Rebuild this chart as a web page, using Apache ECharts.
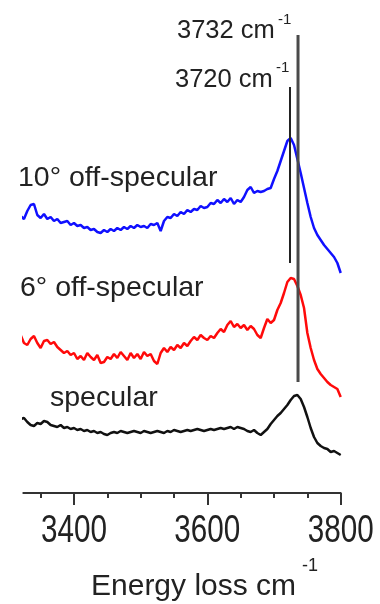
<!DOCTYPE html>
<html>
<head>
<meta charset="utf-8">
<script src="https://cdn.jsdelivr.net/npm/echarts@6/dist/echarts.min.js"></script>
<style>
html,body{margin:0;padding:0;background:#fff;}
#chart{width:380px;height:604px;}
</style>
</head>
<body>
<div id="chart"></div>
<script>
// Energy loss (cm-1), sampled every 5 cm-1
const energy = [];
for (let e = 3310; e <= 3800; e += 5) energy.push(e);

// Offset intensities (arbitrary units)
const offSpec10 = [284,283,277,274,282,288,289,278,275,279,274,276,272,274,270,271,272,268,270,267,
  268,265,266,263,264,261,260,263,261,264,262,265,263,266,264,267,265,268,266,267,
  265,269,268,270,262,272,276,275,279,277,281,279,283,281,284,283,287,285,286,290,
  289,293,290,294,291,295,289,293,291,296,303,306,300,302,301,302,304,305,314,322,
  332,342,352,355,348,334,320,305,290,276,265,258,253,248,244,240,236,230,220];
const offSpec6 = [166,162,158,150,148,154,157,150,145,152,153,149,151,146,143,140,142,138,140,134,
  137,133,140,136,133,138,130,131,136,134,139,135,141,137,133,140,135,139,134,141,
  137,139,132,129,140,145,141,146,143,148,145,150,147,152,156,153,158,155,153,157,
  155,160,164,161,168,172,166,169,165,168,163,167,164,158,155,165,174,170,173,183,
  190,200,211,215,214,207,198,185,160,145,133,124,119,115,111,108,106,104,96];
const specular = [68,70,74,75,71,68,67,70,69,72,71,68,67,66,68,65,66,64,65,63,
  64,62,63,61,62,60,61,59,58,60,61,60,62,61,60,61,62,61,60,62,
  61,60,61,62,61,60,62,61,63,62,61,62,63,62,63,64,63,62,63,64,
  63,64,65,64,65,66,64,66,65,64,62,61,63,60,58,61,64,69,73,77,
  80,84,88,93,97,98,94,86,76,65,56,50,47,45,44,41,42,40,38];

// Reference peak markers: [position, line bottom, line top]
const peak3720 = [3724, 230, 406];
const peak3732 = [3736, 111, 458];

const majorTicks = [3400, 3600, 3800];
const minorTicks = [3350, 3450, 3500, 3550, 3650, 3700, 3750];
const tickLabels = ['3400', '3600', '3800'];

const zip = (ys) => energy.map((x, i) => [x, ys[i]]);

const chart = echarts.init(document.getElementById('chart'), null, {renderer: 'canvas'});
const txt = '#222';
const font = '"Liberation Sans", Arial, sans-serif';

chart.setOption({
  animation: false,
  backgroundColor: '#fff',
  grid: {left: 23.3, right: 39.3, top: 20, bottom: 111, containLabel: false, outerBoundsMode: 'none'},
  xAxis: [{
    type: 'value', min: 3324, max: 3800,
    axisLine: {show: true, lineStyle: {color: '#333', width: 2}},
    axisTick: {show: true, customValues: majorTicks, length: 12, lineStyle: {color: '#333', width: 2}},
    axisLabel: {show: false},
    splitLine: {show: false}
  }, {
    type: 'value', min: 3324, max: 3800, position: 'bottom',
    axisLine: {show: false},
    axisTick: {show: true, customValues: minorTicks, length: 5, lineStyle: {color: '#333', width: 2}},
    axisLabel: {show: false},
    splitLine: {show: false}
  }],
  yAxis: {type: 'value', min: 0, max: 473, show: false},
  series: [
    {type: 'line', name: '10° off-specular', data: zip(offSpec10), showSymbol: false, clip: false,
      lineStyle: {color: '#1010ff', width: 2.5}},
    {type: 'line', name: '6° off-specular', data: zip(offSpec6), showSymbol: false, clip: false,
      lineStyle: {color: '#ff0a0a', width: 2.5}},
    {type: 'line', name: 'specular', data: zip(specular), showSymbol: false, clip: false,
      lineStyle: {color: '#111', width: 2.5}},
    {type: 'line', data: [[peak3720[0], peak3720[1]], [peak3720[0], peak3720[2]]], showSymbol: false,
      lineStyle: {color: '#222', width: 2}},
    {type: 'line', data: [[peak3732[0], peak3732[1]], [peak3732[0], peak3732[2]]], showSymbol: false,
      lineStyle: {color: '#4a4a4a', width: 3}}
  ]
});

// Tick labels (condensed look), placed through the axis scale
const labelY = chart.convertToPixel({yAxisIndex: 0}, 0) + 38;
const tickGraphics = majorTicks.map((v, i) => ({
  type: 'text',
  x: chart.convertToPixel({xAxisIndex: 0}, v),
  y: labelY,
  scaleX: 0.76,
  style: {text: tickLabels[i], font: '39px ' + font, fill: txt, align: 'center', verticalAlign: 'middle'}
}));

chart.setOption({
  graphic: tickGraphics.concat([
    {type: 'text', left: 177, top: 18, style: {text: '3732 cm', font: '25.5px ' + font, fill: txt}},
    {type: 'text', left: 278, top: 12, style: {text: '-1', font: '15px ' + font, fill: txt}},
    {type: 'text', left: 175, top: 67, style: {text: '3720 cm', font: '25.5px ' + font, fill: txt}},
    {type: 'text', left: 276, top: 60, style: {text: '-1', font: '15px ' + font, fill: txt}},
    {type: 'text', left: 18, top: 164, style: {text: '10° off-specular', font: '28.5px ' + font, fill: txt}},
    {type: 'text', left: 20, top: 274, style: {text: '6° off-specular', font: '28.5px ' + font, fill: txt}},
    {type: 'text', left: 50, top: 384, style: {text: 'specular', font: '28.5px ' + font, fill: txt}},
    {type: 'text', left: 91, top: 572, style: {text: 'Energy loss cm', font: '30px ' + font, fill: txt}},
    {type: 'text', left: 302, top: 557, style: {text: '-1', font: '18px ' + font, fill: txt}}
  ])
});
</script>
</body>
</html>
